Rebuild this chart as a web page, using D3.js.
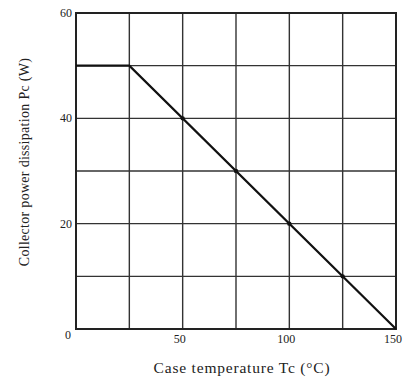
<!DOCTYPE html>
<html>
<head>
<meta charset="utf-8">
<script src="https://cdn.jsdelivr.net/npm/d3@7"></script>
<style>
  body { margin: 0; background: #fff; }
  text { font-family: "Liberation Serif", "DejaVu Serif", serif; fill: #222; }
</style>
</head>
<body>
<div id="chart"></div>
<script>
// derating curve: case temperature (°C) vs collector power dissipation (W)
const temps = [0, 25, 150];
const power = [50, 50, 0];
const dotTemps = [50, 75, 100, 125];
const xTicks = [50, 100, 150];
const yTicks = [20, 40, 60];
const xGrid = [25, 50, 75, 100, 125];
const yGrid = [10, 20, 30, 40, 50];

const width = 409, height = 379;
const margin = { top: 13, right: 13, bottom: 50, left: 76 };

const svg = d3.select('#chart').append('svg')
  .attr('width', width)
  .attr('height', height);

const x = d3.scaleLinear().domain([0, 150]).range([margin.left, width - margin.right]);
const y = d3.scaleLinear().domain([0, 60]).range([height - margin.bottom, margin.top]);

// grid
svg.append('g').selectAll('line')
  .data(xGrid).enter().append('line')
  .attr('x1', d => x(d)).attr('x2', d => x(d))
  .attr('y1', y(0)).attr('y2', y(60))
  .attr('stroke', '#333').attr('stroke-width', 1.4);

svg.append('g').selectAll('line')
  .data(yGrid).enter().append('line')
  .attr('y1', d => y(d)).attr('y2', d => y(d))
  .attr('x1', x(0)).attr('x2', x(150))
  .attr('stroke', '#333').attr('stroke-width', 1.4);

// frame
svg.append('rect')
  .attr('x', x(0)).attr('y', y(60))
  .attr('width', x(150) - x(0)).attr('height', y(0) - y(60))
  .attr('fill', 'none').attr('stroke', '#222').attr('stroke-width', 2);

// curve
const line = d3.line().x(d => x(d[0])).y(d => y(d[1]));
svg.append('path')
  .datum(temps.map((t, i) => [t, power[i]]))
  .attr('d', line)
  .attr('fill', 'none')
  .attr('stroke', '#111')
  .attr('stroke-width', 2.2);

const interp = d3.scaleLinear().domain(temps.slice(1)).range(power.slice(1));
svg.append('g').selectAll('circle')
  .data(dotTemps).enter().append('circle')
  .attr('cx', d => x(d)).attr('cy', d => y(interp(d)))
  .attr('r', 2.2).attr('fill', '#111');

// tick labels
svg.append('text').text('0')
  .attr('x', x(0) - 8).attr('y', y(0) + 10)
  .attr('text-anchor', 'middle').style('font-size', '12px');

svg.append('g').selectAll('text')
  .data(xTicks).enter().append('text')
  .text(d => d)
  .attr('x', d => x(d) - 3).attr('y', y(0) + 14)
  .attr('text-anchor', 'middle').style('font-size', '12px');

svg.append('g').selectAll('text')
  .data(yTicks).enter().append('text')
  .text(d => d)
  .attr('x', x(0) - 4).attr('y', d => y(d) + 4)
  .attr('text-anchor', 'end').style('font-size', '12px');

// axis titles
svg.append('text')
  .text('Case temperature  Tc (°C)')
  .attr('x', 242).attr('y', 373)
  .attr('text-anchor', 'middle')
  .style('font-size', '15.5px')
  .style('letter-spacing', '0.8px');

svg.append('text')
  .text('Collector power dissipation  Pc (W)')
  .attr('transform', 'translate(29,162) rotate(-90)')
  .attr('text-anchor', 'middle')
  .style('font-size', '14px')
  .style('letter-spacing', '0.3px');
</script>
</body>
</html>
